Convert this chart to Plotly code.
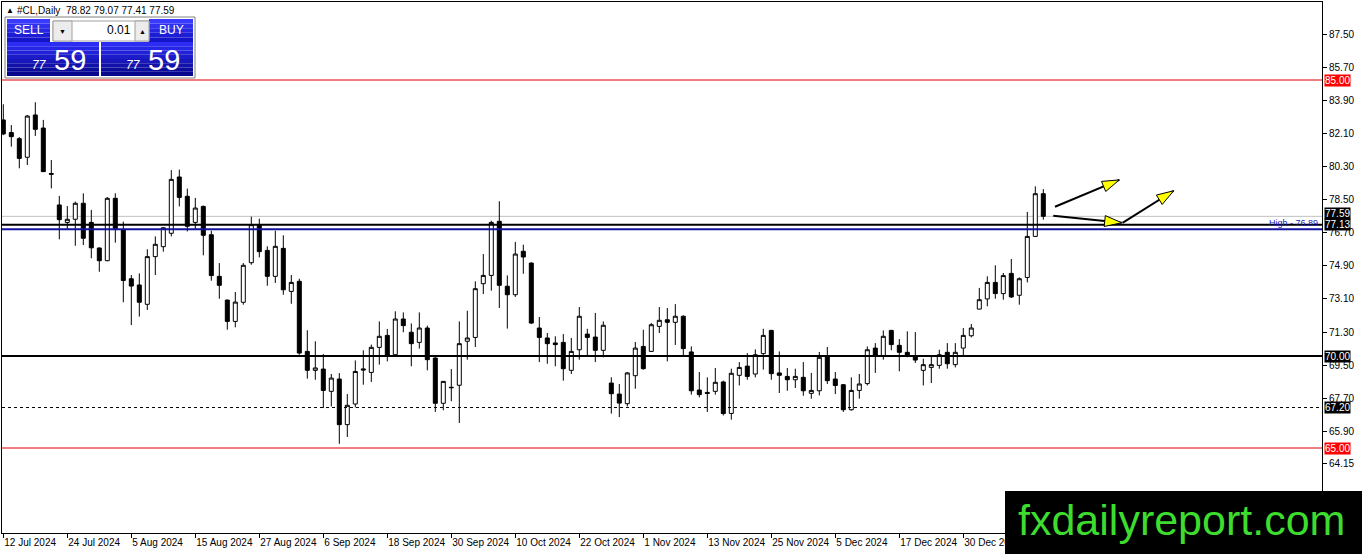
import pandas as pd
import plotly.graph_objects as go

# daily bars, 12 Jul 2024 -> 14 Jan 2025 (no bar on 25 Dec / 1 Jan)
dates = [d for d in pd.bdate_range('2024-07-12', '2025-01-14') if d.strftime('%m-%d') not in ('12-25', '01-01')]
days = [d.strftime('%Y-%m-%d') for d in dates]

opens = [82.83, 82.14, 81.81, 80.80, 83.10, 82.39, 79.92, 78.21, 77.26, 77.43,
         78.30, 77.26, 75.87, 75.18, 78.57, 76.85, 74.20, 73.86, 72.81, 75.40,
         75.94, 76.67, 79.73, 78.68, 77.26, 78.13, 76.59, 74.33, 73.04, 71.88,
         72.92, 75.07, 77.10, 75.74, 74.33, 75.85, 73.51, 74.06, 70.25, 69.22,
         69.29, 68.08, 68.75, 66.27, 67.39, 69.30, 69.11, 70.47, 71.12, 70.07,
         72.01, 71.29, 70.74, 71.52, 69.89, 67.43, 68.30, 68.41, 70.80, 71.01,
         73.93, 74.38, 77.32, 73.79, 73.33, 75.69, 75.05, 71.52, 70.98, 70.71,
         70.74, 69.22, 70.34, 71.19, 71.03, 70.31, 68.53, 67.93, 67.41, 68.93,
         70.52, 70.25, 71.61, 71.97, 71.83, 72.16, 70.22, 68.15, 68.02, 68.08,
         68.59, 66.88, 68.95, 69.45, 69.02, 70.13, 71.39, 69.08, 68.89, 68.71,
         68.84, 67.97, 68.11, 69.98, 68.75, 68.44, 67.08, 68.13, 68.50, 70.43,
         70.02, 71.39, 70.58, 70.20, 69.98, 69.22, 69.38, 69.49, 70.20, 69.53,
         70.43, 71.10, 72.55, 73.10, 74.00, 73.39, 74.49, 73.30, 74.27, 76.50,
         78.82]
highs = [83.68, 82.55, 81.90, 83.10, 83.79, 82.83, 80.65, 78.70, 78.15, 78.39,
         78.84, 77.94, 75.90, 78.64, 78.84, 77.30, 74.40, 74.49, 75.80, 76.50,
         77.00, 80.10, 80.13, 79.10, 78.59, 78.18, 76.81, 75.05, 73.06, 73.48,
         75.05, 77.57, 77.46, 75.96, 76.81, 76.56, 74.40, 74.20, 71.40, 70.80,
         70.11, 69.02, 69.07, 67.93, 69.76, 70.31, 70.62, 71.88, 71.47, 72.43,
         72.37, 71.77, 72.37, 71.65, 69.93, 68.64, 69.29, 71.88, 72.46, 74.06,
         75.54, 77.35, 78.41, 74.38, 76.20, 76.05, 75.09, 72.12, 71.25, 71.07,
         71.19, 70.98, 72.66, 71.48, 72.34, 71.88, 68.84, 68.48, 69.13, 70.76,
         71.43, 71.79, 72.66, 72.61, 72.82, 72.21, 70.52, 69.13, 68.84, 69.35,
         68.66, 69.31, 69.67, 70.16, 70.36, 71.48, 71.42, 70.25, 69.35, 69.31,
         69.67, 69.08, 70.22, 70.49, 69.13, 68.48, 68.84, 69.02, 70.52, 70.70,
         71.39, 71.42, 70.92, 71.34, 71.30, 69.85, 69.98, 70.34, 70.70, 70.70,
         71.52, 71.74, 73.70, 74.33, 74.93, 74.51, 75.27, 74.27, 77.83, 79.22,
         79.07]
lows = [82.00, 81.38, 80.20, 80.38, 81.96, 80.00, 79.11, 76.34, 76.87, 75.99,
        76.03, 75.31, 74.58, 75.15, 76.16, 72.92, 71.68, 72.14, 72.50, 74.40,
        75.67, 76.50, 78.13, 76.77, 76.86, 75.47, 74.09, 73.11, 71.43, 71.56,
        72.79, 74.96, 75.36, 73.82, 73.97, 73.33, 72.84, 70.07, 68.77, 68.71,
        67.17, 67.26, 65.23, 65.60, 67.21, 68.44, 68.59, 69.53, 69.71, 70.04,
        71.29, 69.44, 70.40, 69.22, 66.96, 67.05, 67.54, 66.36, 69.80, 70.49,
        73.37, 73.55, 72.61, 71.49, 73.21, 74.47, 71.74, 69.67, 69.58, 69.44,
        68.66, 69.02, 69.80, 70.04, 69.67, 69.93, 66.87, 66.68, 67.26, 68.22,
        69.26, 70.22, 71.25, 69.71, 70.60, 70.04, 67.90, 67.75, 66.96, 67.90,
        66.77, 66.54, 68.40, 68.71, 68.84, 69.26, 68.71, 67.99, 68.11, 68.26,
        67.84, 67.68, 67.86, 68.48, 67.93, 66.96, 67.03, 67.68, 68.40, 69.08,
        69.80, 70.31, 69.17, 69.93, 69.62, 68.40, 68.53, 69.31, 69.31, 69.38,
        70.04, 71.01, 72.53, 72.70, 73.11, 73.06, 73.15, 72.79, 74.00, 76.48,
        77.41]
closes = [82.07, 81.92, 80.74, 83.04, 82.32, 80.02, 79.88, 77.41, 77.43, 78.30,
          76.40, 75.88, 75.18, 78.57, 76.94, 74.10, 73.80, 72.92, 75.40, 76.07,
          76.97, 79.60, 78.62, 77.05, 78.04, 76.56, 74.37, 73.84, 71.88, 72.93,
          74.93, 77.14, 75.67, 74.33, 75.96, 73.60, 74.00, 70.16, 69.22, 69.35,
          68.13, 68.80, 66.27, 67.32, 69.16, 69.24, 70.47, 71.07, 70.02, 72.01,
          71.65, 70.67, 71.52, 69.80, 67.43, 68.62, 68.28, 70.67, 70.98, 73.66,
          74.38, 77.26, 73.84, 73.33, 75.54, 75.38, 71.79, 71.01, 70.67, 70.62,
          69.31, 70.25, 72.16, 71.01, 70.31, 71.67, 67.95, 67.44, 69.08, 70.43,
          69.31, 71.70, 71.94, 71.83, 72.16, 70.40, 68.11, 67.90, 67.97, 68.57,
          66.87, 69.06, 69.38, 68.89, 70.07, 71.12, 69.04, 68.95, 68.71, 68.89,
          68.11, 68.13, 69.93, 68.66, 68.40, 67.08, 68.13, 68.48, 70.34, 70.04,
          71.07, 70.62, 70.20, 69.98, 69.78, 69.53, 69.53, 70.07, 69.58, 70.20,
          71.12, 71.52, 73.06, 74.00, 73.39, 74.37, 73.21, 74.20, 76.50, 78.82,
          77.59]

price_ticks = [87.50, 85.70, 83.90, 82.10, 80.30, 78.50, 76.70, 74.90, 73.10, 71.30, 69.50, 67.70, 65.90, 64.15]
# every 8th bar gets a date label (the ones behind the watermark are left out)
tick_days = days[:121:8]
tick_labels = [f"{d.day} {d.strftime('%b %Y')}" for d in dates[:121:8]]

# horizontal levels: price, colour, width, dash
level_prices = [85.00, 65.00, 70.00, 67.20, 77.13]
level_colors = ['#e00000', '#e00000', 'black', 'black', 'black']
level_widths = [1, 1, 2, 1, 2]
level_dash = ['solid', 'solid', 'solid', '3px,3px', 'solid']
bid_price = 77.59
high_price = 76.89

# drawn arrows (bar index, price): start -> tip
arrow_x0 = [131.46, 131.25, 139.9]
arrow_y0 = [78.11, 77.62, 77.24]
arrow_x1 = [139.5, 139.8, 146.3]
arrow_y1 = [79.57, 77.24, 78.98]

FONT = 'Liberation Sans'
W, H = 1362, 554
L, R, T, B = 2, 1322, 2, 533
X_RANGE = [(L - 3.3) / 8, (R - 3.3) / 8]
Y_RANGE = [85 - (B - 80) / 18.4, 85 + (80 - T) / 18.4]


def px(x):
    return (x - L) / (R - L)


def py(y):
    return (B - y) / (B - T)


def rect(x0, y0, x1, y1, fill, line=None):
    return dict(type='rect', xref='paper', yref='paper', x0=px(x0), x1=px(x1), y0=py(y1), y1=py(y0),
                fillcolor=fill, line=dict(width=1 if line else 0, color=line or fill), layer='above')


def grad(x0, y0, x1, y1, top, bot, n=8):
    c0 = [int(top[i:i + 2], 16) for i in (1, 3, 5)]
    c1 = [int(bot[i:i + 2], 16) for i in (1, 3, 5)]
    out = []
    for k in range(n):
        f = k / (n - 1)
        c = '#%02x%02x%02x' % tuple(int(a + (b - a) * f) for a, b in zip(c0, c1))
        out.append(rect(x0, y0 + (y1 - y0) * k / n, x1, y0 + (y1 - y0) * (k + 1) / n, c))
    return out


def label(x, y, text, size=10, color='black', anchor='left', **kw):
    return dict(xref='paper', yref='paper', x=px(x), y=py(y), text=text, showarrow=False,
                xanchor=anchor, yanchor='middle', font=dict(family=FONT, size=size, color=color), **kw)


fig = go.Figure()
fig.add_trace(go.Candlestick(
    x=days, open=opens, high=highs, low=lows, close=closes,
    increasing=dict(line=dict(color='black', width=1), fillcolor='white'),
    decreasing=dict(line=dict(color='black', width=1), fillcolor='black'),
    whiskerwidth=0, showlegend=False, hoverinfo='skip'))

shapes = []
annotations = []

# bid line and high line
shapes.append(dict(type='line', xref='paper', x0=0, x1=1, yref='y', y0=bid_price, y1=bid_price,
                   line=dict(color='#c0c0c0', width=1), layer='below'))
shapes.append(dict(type='line', xref='paper', x0=0, x1=1, yref='y', y0=high_price, y1=high_price,
                   line=dict(color='#13139e', width=2)))
annotations.append(dict(xref='paper', x=px(1320), yref='y', y=high_price, yshift=-1, text='High - 76.89',
                        showarrow=False, xanchor='right', yanchor='bottom',
                        font=dict(family=FONT, size=9, color='#2020c0')))

for p, c, w, d in zip(level_prices, level_colors, level_widths, level_dash):
    shapes.append(dict(type='line', xref='paper', x0=0, x1=1, yref='y', y0=p, y1=p,
                       line=dict(color=c, width=w, dash=d)))

# price boxes on the scale (bid box sits just above the 77.13 box)
for p, c in [(bid_price, 'black')] + list(zip(level_prices, level_colors)):
    annotations.append(dict(xref='paper', x=px(1324), yref='y', y=p, text=f'{p:.2f}', showarrow=False,
                            xanchor='left', yanchor='middle', bgcolor='#ff0000' if c != 'black' else 'black',
                            yshift=3 if p == bid_price else 0,
                            borderpad=0, font=dict(family=FONT, size=10, color='white')))

# arrows: black shaft + yellow head
for x0, y0, x1, y1 in zip(arrow_x0, arrow_y0, arrow_x1, arrow_y1):
    shapes.append(dict(type='line', xref='x', yref='y', x0=x0, y0=y0, x1=x1, y1=y1,
                       line=dict(color='black', width=2)))
    dx, dy = (x1 - x0) * 8, (y1 - y0) * 18.4
    n = (dx ** 2 + dy ** 2) ** 0.5
    ux, uy = dx / n, dy / n
    bx, by = -17 * ux, -17 * uy
    hw = 5.5
    path = (f'M 0 0 L {bx - hw * uy:.1f} {by + hw * ux:.1f} '
            f'L {bx + hw * uy:.1f} {by - hw * ux:.1f} Z')
    shapes.append(dict(type='path', xref='x', yref='y', xsizemode='pixel', ysizemode='pixel',
                       xanchor=x1, yanchor=y1, path=path, fillcolor='#ffff00',
                       line=dict(color='black', width=1)))

# one-click trading panel
annotations.append(label(4, 10, '▲', size=8))
annotations.append(label(15, 10, f'#CL,Daily  {opens[-1]:.2f} {highs[-1]:.2f} {lows[-1]:.2f} {closes[-1]:.2f}', size=10))
shapes.append(rect(5, 17, 195, 78, 'white', '#808080'))
shapes += grad(7, 19, 50, 42, '#3a3aff', '#1414c8', 5)
shapes += grad(149, 19, 193, 42, '#3a3aff', '#1414c8', 5)
shapes.append(rect(53, 21, 149, 41, 'white', '#a0a0a0'))
shapes.append(rect(53, 21, 72, 41, '#ececec', '#a0a0a0'))
shapes.append(rect(135, 21, 149, 41, '#ececec', '#a0a0a0'))
shapes += grad(7, 42, 99, 76, '#2c2cf5', '#08088e', 8)
shapes += grad(101, 42, 193, 76, '#2c2cf5', '#08088e', 8)
annotations.append(label(28.5, 30, 'SELL', size=12, color='white', anchor='center'))
annotations.append(label(171, 30, 'BUY', size=12, color='white', anchor='center'))
annotations.append(label(62.5, 31, '▼', size=7, anchor='center'))
annotations.append(label(142, 31, '▲', size=7, anchor='center'))
annotations.append(label(133, 30, '0.01', size=12, anchor='right'))
annotations.append(label(49, 65, '<i>77</i>', size=12, color='white', anchor='right'))
annotations.append(label(52, 60, '59', size=29, color='white'))
annotations.append(label(143, 65, '<i>77</i>', size=12, color='white', anchor='right'))
annotations.append(label(146, 60, '59', size=29, color='white'))

# watermark
shapes.append(rect(1005, 491, 1365, 556, 'black'))
annotations.append(label(1181, 520, 'fxdailyreport.com', size=43, color='#3ddc2e', anchor='center'))

fig.update_layout(
    width=W, height=H, margin=dict(l=L, r=W - R, t=T, b=H - B, autoexpand=False),
    paper_bgcolor='white', plot_bgcolor='white',
    boxgap=0.5, boxgroupgap=0,
    font=dict(family=FONT, size=10, color='black'),
    shapes=shapes, annotations=annotations,
    xaxis=dict(type='category', range=X_RANGE, tickvals=tick_days, ticktext=tick_labels,
               ticks='outside', ticklen=4, tickcolor='black', ticklabelposition='outside right',
               tickangle=0, automargin=False,
               showline=True, mirror=True, linecolor='black', linewidth=1,
               showgrid=False, zeroline=False, rangeslider=dict(visible=False),
               tickfont=dict(family=FONT, size=10, color='black')),
    yaxis=dict(side='right', range=Y_RANGE, tickvals=price_ticks, ticktext=[f'{v:.2f}' for v in price_ticks],
               ticks='outside', ticklen=4, tickcolor='black', automargin=False,
               showline=True, mirror=True, linecolor='black', linewidth=1,
               showgrid=False, zeroline=False,
               tickfont=dict(family=FONT, size=10, color='black')),
)

fig.write_html("out.html", config={'displayModeBar': False},
               post_script="document.body.style.margin='0';")
